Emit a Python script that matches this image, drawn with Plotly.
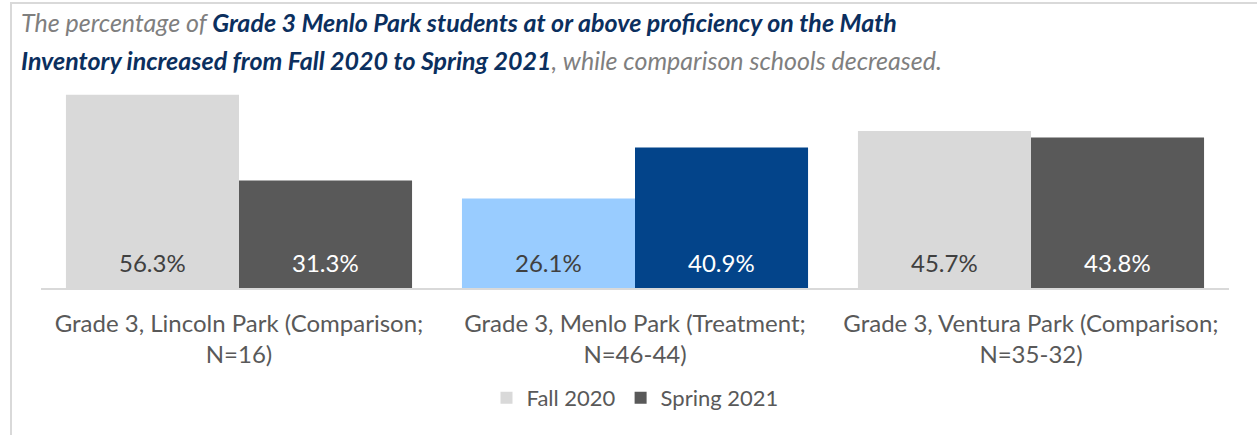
import plotly.graph_objects as go

categories = ["Grade 3, Lincoln Park (Comparison;<br>N=16)",
              "Grade 3, Menlo Park (Treatment;<br>N=46-44)",
              "Grade 3, Ventura Park (Comparison;<br>N=35-32)"]
fall_2020 = [56.3, 26.1, 45.7]
spring_2021 = [31.3, 40.9, 43.8]

fall_colors = ["#D9D9D9", "#99CCFF", "#D9D9D9"]
spring_colors = ["#595959", "#03448A", "#595959"]
fall_text_colors = ["#404040", "#404040", "#404040"]
spring_text_colors = ["#FFFFFF", "#FFFFFF", "#FFFFFF"]

W, H = 1257, 435
L, R, T, B = 41, 28, 82, 147
pw, ph = W - L - R, H - T - B
BARGAP = 0.126

def px_x(p):
    return (p - L) / pw

def px_y(p):
    return (H - B - p) / ph

xs = [0, 1, 2]
fig = go.Figure()
fig.add_trace(go.Bar(
    x=xs, y=fall_2020, name="Fall 2020",
    marker=dict(color=fall_colors, line=dict(width=0)),
))
fig.add_trace(go.Bar(
    x=xs, y=spring_2021, name="Spring 2021",
    marker=dict(color=spring_colors, line=dict(width=0)),
))

# value labels near the base of each bar
bar_w = (1 - BARGAP) / 2
for series, tcolors, off in [(fall_2020, fall_text_colors, -bar_w / 2),
                             (spring_2021, spring_text_colors, bar_w / 2)]:
    for xi, v, c in zip(xs, series, tcolors):
        fig.add_annotation(x=xi + off, y=0, xref="x", yref="y", text=f"{v:.1f}%",
                           showarrow=False, yanchor="middle", yshift=26,
                           font=dict(size=24, color=c, family="Lato"))

fig.update_layout(
    width=W, height=H,
    margin=dict(l=L, r=R, t=T, b=B, autoexpand=False),
    paper_bgcolor="white", plot_bgcolor="white",
    barmode="group", bargap=BARGAP, bargroupgap=0,
    font=dict(family="Lato", color="#595959", size=20),
    xaxis=dict(tickmode="array", tickvals=xs, ticktext=categories,
               range=[-0.5, 2.5], showline=True, linecolor="#D9D9D9", linewidth=2,
               ticks="", showgrid=False, zeroline=False, ticklabelstandoff=13,
               tickfont=dict(size=24, color="#595959", family="Lato")),
    yaxis=dict(range=[0, 60], visible=False, showgrid=False, zeroline=False),
    showlegend=True,
    legend=dict(orientation="h", x=0.5, xanchor="center", y=px_y(398), yanchor="middle",
                font=dict(size=22, color="#595959", family="Lato"),
                itemwidth=30, traceorder="normal"),
)

navy = "#0B2F5E"
grey = "#7F7F7F"
fig.add_annotation(
    xref="paper", yref="paper", x=px_x(19), y=px_y(22), xanchor="left", yanchor="middle",
    showarrow=False, align="left",
    text=f"<i><span style='color:{grey}'>The percentage of </span><b><span style='color:{navy}'>Grade 3 Menlo Park students at or above proficiency on the Math</span></b></i>",
    font=dict(size=25, family="Lato"),
)
fig.add_annotation(
    xref="paper", yref="paper", x=px_x(19), y=px_y(60), xanchor="left", yanchor="middle",
    showarrow=False, align="left",
    text=f"<i><b><span style='color:{navy}'>Inventory increased from Fall 2020 to Spring 2021</span></b><span style='color:{grey}'>, while comparison schools decreased.</span></i>",
    font=dict(size=25, family="Lato"),
)

fig.add_shape(type="line", xref="paper", yref="paper",
              x0=px_x(11), x1=px_x(11), y0=px_y(2), y1=px_y(436),
              line=dict(color="#D9D9D9", width=2))
fig.add_shape(type="line", xref="paper", yref="paper",
              x0=px_x(10), x1=px_x(1258), y0=px_y(3), y1=px_y(3),
              line=dict(color="#D9D9D9", width=2))

fig.write_html("out.html")
